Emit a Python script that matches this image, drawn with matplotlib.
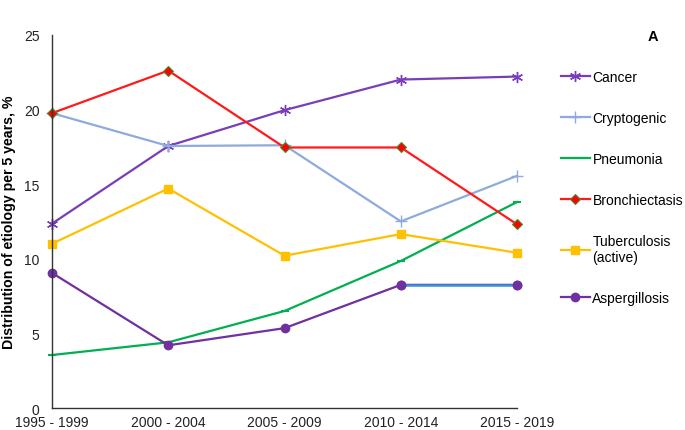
import matplotlib
matplotlib.use('Agg')
import matplotlib.pyplot as plt

plt.rcParams['font.family'] = ['Liberation Sans', 'DejaVu Sans']

periods = ["1995 - 1999", "2000 - 2004", "2005 - 2009", "2010 - 2014", "2015 - 2019"]
cancer = [12.35, 17.55, 19.95, 22.0, 22.2]
cryptogenic = [19.75, 17.55, 17.6, 12.5, 15.55]
pneumonia = [3.55, 4.4, 6.5, 9.85, 13.8]
bronchiectasis = [19.75, 22.6, 17.45, 17.45, 12.3]
tuberculosis = [11.0, 14.7, 10.2, 11.65, 10.4]
aspergillosis = [9.05, 4.2, 5.35, 8.25, 8.25]

x = list(range(len(periods)))

fig = plt.figure(figsize=(6.85, 4.31), dpi=100)
ax = fig.add_axes([0.0759, 0.051, 0.679, 0.866])

kw = dict(lw=1.6, clip_on=False)
ax.plot(x, cancer, color='#7a3db8', marker=(6, 2, 0), ms=8, mew=1.0, label='Cancer', **kw)
ax.plot(x, cryptogenic, color='#8faadc', marker='+', ms=9, mew=1.0, label='Cryptogenic', **kw)
ax.plot(x, pneumonia, color='#00b050', marker='_', ms=6, mew=1.5, label='Pneumonia', **kw)
ax.plot(x, bronchiectasis, color='#ff1a1a', marker='D', ms=5, mfc='#ff0000', mec='#4e8a2e', mew=0.8,
        label='Bronchiectasis', **kw)
ax.plot(x, tuberculosis, color='#ffc000', marker='s', ms=6, label='Tuberculosis\n(active)', **kw)
ax.plot(x, aspergillosis, color='#7030a0', marker='o', ms=6, label='Aspergillosis', **kw)
# last segment of aspergillosis drawn in blue
ax.plot(x[3:], aspergillosis[3:], color='#3b8ed8', lw=1.8, zorder=2.5, clip_on=False)
ax.plot(x[3:], aspergillosis[3:], color='#7030a0', lw=0, marker='o', ms=6, zorder=3, clip_on=False)

ax.set_xlim(0, 4)
ax.set_ylim(0, 25)
ax.set_yticks([0, 5, 10, 15, 20, 25])
ax.set_xticks(x)
ax.set_xticklabels(periods)
ax.tick_params(length=0, labelsize=10, colors='#222222', pad=5)
ax.tick_params(axis='y', pad=9)
for s in ['top', 'right']:
    ax.spines[s].set_visible(False)
for s in ['left', 'bottom']:
    ax.spines[s].set_color('#333333')
    ax.spines[s].set_linewidth(1.0)
ax.set_ylabel('Distribution of etiology per 5 years, %', fontsize=10.2, fontweight='bold', labelpad=6)

leg = fig.legend(loc='upper left', bbox_to_anchor=(0.8, 0.865), frameon=False,
                 fontsize=10, labelspacing=1.95, handlelength=2.1, handletextpad=0.2)

fig.text(0.945, 0.905, 'A', fontsize=10.5, fontweight='bold')

fig.savefig('out.png', dpi=100)
